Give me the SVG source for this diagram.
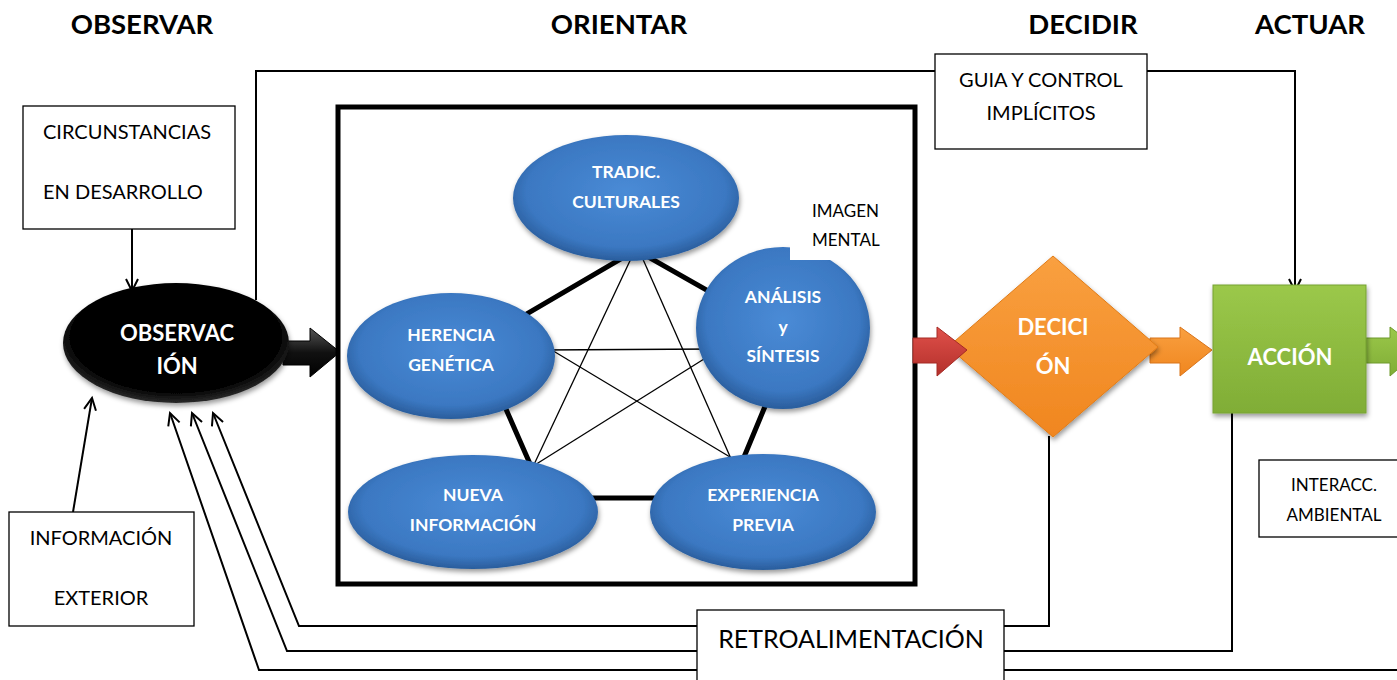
<svg xmlns="http://www.w3.org/2000/svg" width="1397" height="680" viewBox="0 0 1397 680">
<style>
.title{font-family:Lato,"Open Sans","Liberation Sans",sans-serif;font-weight:bold;font-size:27.5px;fill:#000;text-anchor:middle}
.box{fill:#fff;stroke:#000;stroke-width:1.3}
.bt{font-family:Lato,"Open Sans","Liberation Sans",sans-serif;font-size:20px;fill:#000}
.nt{font-family:Lato,"Open Sans","Liberation Sans",sans-serif;font-weight:bold;font-size:17.5px;fill:#fff;text-anchor:middle}
.big{font-family:Lato,"Open Sans","Liberation Sans",sans-serif;font-weight:bold;font-size:22px;fill:#fff;text-anchor:middle}
.con{fill:none;stroke:#000;stroke-width:2}
.thin{stroke:#000;stroke-width:1.3}
.thick{stroke:#000;stroke-width:5}
.blue{fill:url(#gBlue);filter:url(#sh)}
</style>
<defs>
<radialGradient id="gBlue" cx="50%" cy="45%" r="55%">
<stop offset="0" stop-color="#4a8bd6"/>
<stop offset="0.8" stop-color="#3b78c2"/>
<stop offset="1" stop-color="#2a5d9c"/>
</radialGradient>
<radialGradient id="gBlack" cx="50%" cy="45%" r="55%">
<stop offset="0" stop-color="#000"/>
<stop offset="0.85" stop-color="#050505"/>
<stop offset="1" stop-color="#2a2a2a"/>
</radialGradient>
<linearGradient id="gOrange" x1="0" y1="0" x2="0" y2="1">
<stop offset="0" stop-color="#f9a040"/>
<stop offset="1" stop-color="#f0861f"/>
</linearGradient>
<linearGradient id="gGreen" x1="0" y1="0" x2="0" y2="1">
<stop offset="0" stop-color="#9bc84a"/>
<stop offset="1" stop-color="#80ad36"/>
</linearGradient>
<linearGradient id="gRed" x1="0" y1="0" x2="0" y2="1">
<stop offset="0" stop-color="#e0504a"/>
<stop offset="1" stop-color="#b3302b"/>
</linearGradient>
<linearGradient id="gDark" x1="0" y1="0" x2="0" y2="1">
<stop offset="0" stop-color="#555"/>
<stop offset="0.5" stop-color="#111"/>
<stop offset="1" stop-color="#000"/>
</linearGradient>
<filter id="sh" x="-20%" y="-20%" width="140%" height="150%">
<feDropShadow dx="1" dy="3" stdDeviation="2.5" flood-color="#000" flood-opacity="0.4"/>
</filter>
<marker id="arr" markerUnits="userSpaceOnUse" markerWidth="16" markerHeight="16" refX="13" refY="7" orient="auto">
<path d="M1,1 L13,7 L1,13" fill="none" stroke="#000" stroke-width="2"/>
</marker>
</defs>

<g id="titles">
<text class="title" x="142" y="34">OBSERVAR</text>
<text class="title" x="619" y="34">ORIENTAR</text>
<text class="title" x="1083" y="34">DECIDIR</text>
<text class="title" x="1310" y="34">ACTUAR</text>
</g>

<g id="connectors">
<path class="con" d="M256,300 V71 H1295 V291" marker-end="url(#arr)"/>
<path class="con" d="M132,229 V291" marker-end="url(#arr)"/>
<path class="con" d="M73,512 L92,398" marker-end="url(#arr)"/>
<path class="con" d="M1049,436 V626 H299 L213,413" marker-end="url(#arr)"/>
<path class="con" d="M1232,413 V651 H287 L192,413" marker-end="url(#arr)"/>
<path class="con" d="M1397,670 H259 L170,413" marker-end="url(#arr)"/>
<polygon points="283,341 310,341 310,328 340,352 310,377 310,365 283,365" fill="url(#gDark)" stroke="#000" stroke-width="1"/>
<polygon points="1150,338 1180,338 1180,327 1212,350 1180,376 1180,363 1150,363" fill="url(#gOrange)" stroke="#d9741a" stroke-width="1"/>
<polygon points="1366,338 1390,338 1390,327 1420,350 1390,376 1390,363 1366,363" fill="url(#gGreen)" stroke="#6f9a2c" stroke-width="1"/>
</g>

<g id="circunstancias">
<rect class="box" x="23" y="106" width="212" height="123"/>
<text class="bt" x="43" y="139">CIRCUNSTANCIAS</text>
<text class="bt" x="43" y="199">EN DESARROLLO</text>
</g>

<g id="informacion">
<rect class="box" x="9" y="512" width="185" height="114"/>
<text class="bt" x="101" y="545" text-anchor="middle">INFORMACIÓN</text>
<text class="bt" x="101" y="605" text-anchor="middle">EXTERIOR</text>
</g>

<g id="observacion">
<ellipse cx="176" cy="343" rx="113" ry="60" fill="url(#gBlack)" filter="url(#sh)"/>
<text class="big" x="177" y="341">OBSERVAC</text>
<text class="big" x="177" y="374">IÓN</text>
</g>

<g id="orientar">
<rect x="338" y="107" width="577" height="477" fill="none" stroke="#000" stroke-width="5"/>
<g id="pentagon">
<polygon points="636,250 793,339 727,498 545,498 477,343" fill="none" class="thick"/>
<line class="thin" x1="636" y1="248" x2="530" y2="473"/>
<line class="thin" x1="638" y1="248" x2="736" y2="470"/>
<line class="thin" x1="540" y1="350" x2="715" y2="349"/>
<line class="thin" x1="545" y1="346" x2="735" y2="460"/>
<line class="thin" x1="712" y1="354" x2="530" y2="468"/>
</g>
<g id="tradic">
<ellipse class="blue" cx="626" cy="198" rx="113" ry="63"/>
<text class="nt" x="626" y="178">TRADIC.</text>
<text class="nt" x="626" y="208">CULTURALES</text>
</g>
<g id="analisis">
<ellipse class="blue" cx="783" cy="328" rx="87" ry="81"/>
<text class="nt" x="783" y="303">ANÁLISIS</text>
<text class="nt" x="783" y="333">y</text>
<text class="nt" x="783" y="362">SÍNTESIS</text>
</g>
<g id="imagen">
<rect x="790" y="194" width="105" height="66" fill="#fff"/>
<text x="812" y="217" font-family="Lato,'Open Sans','Liberation Sans',sans-serif" font-size="17" fill="#000">IMAGEN</text>
<text x="812" y="246" font-family="Lato,'Open Sans','Liberation Sans',sans-serif" font-size="17" fill="#000">MENTAL</text>
</g>
<g id="herencia">
<ellipse class="blue" cx="451" cy="356" rx="104" ry="63"/>
<text class="nt" x="451" y="341">HERENCIA</text>
<text class="nt" x="451" y="371">GENÉTICA</text>
</g>
<g id="nueva">
<ellipse class="blue" cx="473" cy="512" rx="125" ry="57"/>
<text class="nt" x="473" y="501">NUEVA</text>
<text class="nt" x="473" y="531">INFORMACIÓN</text>
</g>
<g id="experiencia">
<ellipse class="blue" cx="763" cy="512" rx="113" ry="58"/>
<text class="nt" x="763" y="501">EXPERIENCIA</text>
<text class="nt" x="763" y="531">PREVIA</text>
</g>
</g>

<g id="decicion">
<polygon points="1053,256 1158,347 1053,437 948,347" fill="url(#gOrange)" stroke="#e07b17" stroke-width="1" filter="url(#sh)"/>
<text class="big" x="1053" y="335">DECICI</text>
<text class="big" x="1053" y="374">ÓN</text>
</g>
<polygon id="redArrow" points="913,338 937,338 937,327 967,350 937,376 937,363 913,363" fill="url(#gRed)" stroke="#a52a24" stroke-width="1"/>

<g id="accion">
<rect x="1213" y="285" width="153" height="128" fill="url(#gGreen)" stroke="#76a232" stroke-width="1" filter="url(#sh)"/>
<text class="big" x="1290" y="365">ACCIÓN</text>
</g>

<g id="guia">
<rect class="box" x="935" y="54" width="212" height="95"/>
<text class="bt" x="1041" y="87" text-anchor="middle">GUIA Y CONTROL</text>
<text class="bt" x="1041" y="120" text-anchor="middle">IMPLÍCITOS</text>
</g>

<g id="interacc">
<rect class="box" x="1259" y="460" width="145" height="77"/>
<text x="1334" y="491" text-anchor="middle" font-family="Lato,'Open Sans','Liberation Sans',sans-serif" font-size="17" fill="#000">INTERACC.</text>
<text x="1334" y="521" text-anchor="middle" font-family="Lato,'Open Sans','Liberation Sans',sans-serif" font-size="17" fill="#000">AMBIENTAL</text>
</g>

<g id="retro">
<rect class="box" x="697" y="610" width="307" height="80"/>
<text x="851" y="648" text-anchor="middle" font-family="Lato,'Open Sans','Liberation Sans',sans-serif" font-size="25" fill="#000">RETROALIMENTACIÓN</text>
</g>
</svg>
